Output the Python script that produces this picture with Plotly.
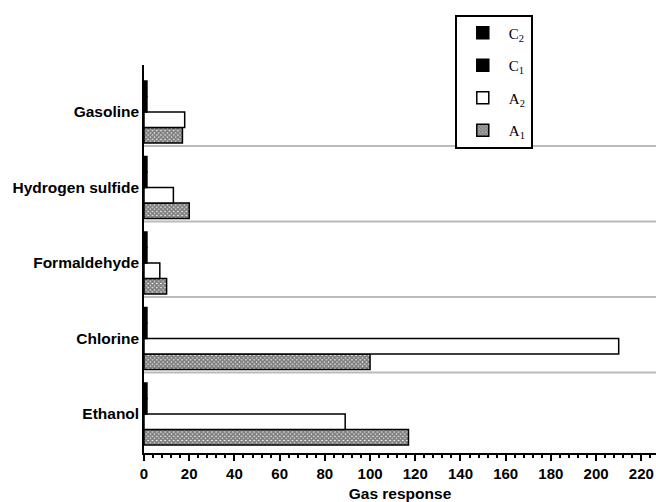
import plotly.graph_objects as go

categories = ["Ethanol", "Chlorine", "Formaldehyde", "Hydrogen sulfide", "Gasoline"]
A1 = [117, 100, 10, 20, 17]
A2 = [89, 210, 7, 13, 18]
C1 = [1.3, 1.3, 1.3, 1.3, 1.3]
C2 = [1.3, 1.3, 1.3, 1.3, 1.3]
separators = [0.55, 1.55, 2.55, 3.55]
x_ticks = list(range(0, 221, 20))

fig = go.Figure()
line = dict(color="black", width=1.5)
fig.add_trace(go.Bar(y=categories, x=A1, orientation="h", name="A<sub>1</sub>", legendgroup="a1", legendrank=4,
                     marker=dict(color="white", line=line,
                                 pattern=dict(shape="x", size=3, solidity=0.85, fgcolor="black", bgcolor="white"))))
fig.add_trace(go.Bar(y=categories, x=A2, orientation="h", name="A<sub>2</sub>", legendgroup="a2", legendrank=3,
                     marker=dict(color="white", line=line)))
fig.add_trace(go.Bar(y=categories, x=C1, orientation="h", name="C<sub>1</sub>", legendgroup="c1", legendrank=2,
                     marker=dict(color="black", line=line)))
fig.add_trace(go.Bar(y=categories, x=C2, orientation="h", name="C<sub>2</sub>", legendgroup="c2", legendrank=1,
                     marker=dict(color="black", line=line)))

for s in separators:
    fig.add_shape(type="line", xref="paper", x0=0, x1=1, yref="y", y0=s, y1=s,
                  line=dict(color="#bbbbbb", width=2), layer="below")

fig.update_layout(
    width=656, height=502,
    margin=dict(l=144, r=0, t=65, b=49, autoexpand=False),
    paper_bgcolor="white", plot_bgcolor="white",
    barmode="group", bargap=0.18, bargroupgap=0,
    font=dict(family="Liberation Sans, Arial, sans-serif", color="black"),
    showlegend=True,
    legend=dict(x=0.607, y=1.13, xanchor="left", yanchor="top",
                traceorder="grouped", tracegroupgap=10, itemwidth=42,
                bordercolor="black", borderwidth=2, bgcolor="white",
                font=dict(family="Liberation Serif, serif", size=15, color="black")),
    xaxis=dict(range=[0, 226.5], tickvals=x_ticks, ticks="outside", ticklen=6, tickwidth=2,
               tickcolor="black", showline=True, linecolor="black", linewidth=2,
               showgrid=False, zeroline=False, automargin=False,
               minor=dict(dtick=4, ticks="outside", ticklen=3, tickwidth=2, tickcolor="black", showgrid=False),
               tickfont=dict(size=15, weight="bold"),
               title=dict(text="Gas response", font=dict(size=15.5, weight="bold"), standoff=14)),
    yaxis=dict(type="category", categoryorder="array", categoryarray=categories,
               range=[-0.517, 4.623], showline=True, linecolor="black", linewidth=1.5,
               ticks="", showgrid=False, zeroline=False, automargin=False,
               tickfont=dict(size=15.5, weight="bold")),
)

fig.write_html("out.html", config={"displayModeBar": False},
               post_script="document.body.style.margin='0';document.body.style.overflow='hidden';")
